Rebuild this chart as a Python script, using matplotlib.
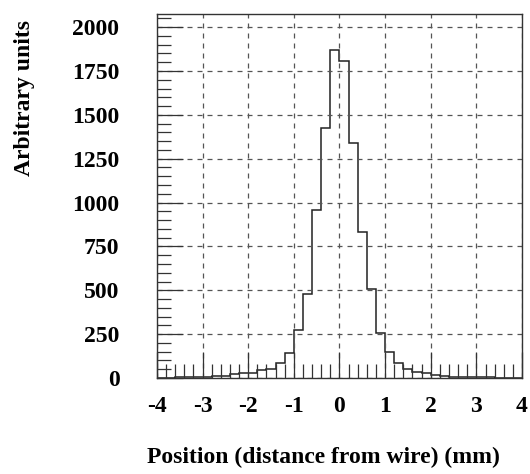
import numpy as np
import matplotlib.pyplot as plt
from matplotlib.ticker import MultipleLocator

# bin edges (mm) and counts
bin_edges = np.round(np.arange(-4.0, 4.0001, 0.2), 1)
counts = [2, 2, 3, 3, 3, 4, 10, 12, 25, 28,
          30, 47, 50, 83, 140, 273, 481, 955, 1424, 1869,
          1809, 1339, 835, 510, 254, 146, 83, 51, 36, 27,
          17, 10, 6, 5, 4, 3, 3, 2, 2, 2]

xticks = [-4, -3, -2, -1, 0, 1, 2, 3, 4]
yticks = [0, 250, 500, 750, 1000, 1250, 1500, 1750, 2000]

plt.rcParams['font.family'] = ['Liberation Serif', 'DejaVu Serif']
plt.rcParams['font.weight'] = 'bold'
plt.rcParams['axes.unicode_minus'] = False

fig = plt.figure(figsize=(5.30, 4.74), dpi=100)
ax = fig.add_axes([0.296, 0.2025, 0.689, 0.768])

ax.stairs(counts, bin_edges, color='#222222', linewidth=1.1)

ax.set_xlim(-4, 4)
ax.set_ylim(0, 2075)
ax.set_xticks(xticks)
ax.set_yticks(yticks)
ax.xaxis.set_minor_locator(MultipleLocator(0.2))
ax.yaxis.set_minor_locator(MultipleLocator(50))

ax.tick_params(which='major', direction='in', length=19, width=0.9,
               labelsize=17, top=False, right=False, color='#333333')
ax.tick_params(which='minor', direction='in', length=10, width=0.9,
               top=False, right=False, color='#333333')
ax.tick_params(axis='y', which='major', pad=27)
ax.tick_params(axis='x', which='major', pad=13)

ax.grid(True, which='major', linestyle=(0, (4, 4)), color='#555555', linewidth=0.9)

for s in ax.spines.values():
    s.set_color('#333333')
    s.set_linewidth(1.0)

ax.set_xlabel('Position (distance from wire) (mm)', fontsize=17, fontweight='bold')
ax.set_ylabel('Arbitrary units', fontsize=17, fontweight='bold')
ax.xaxis.set_label_coords(0.457, -0.19)
ax.yaxis.set_label_coords(-0.334, 0.77)
for lab in ax.get_xticklabels() + ax.get_yticklabels():
    lab.set_fontweight('bold')

fig.savefig('out.png', dpi=100)
